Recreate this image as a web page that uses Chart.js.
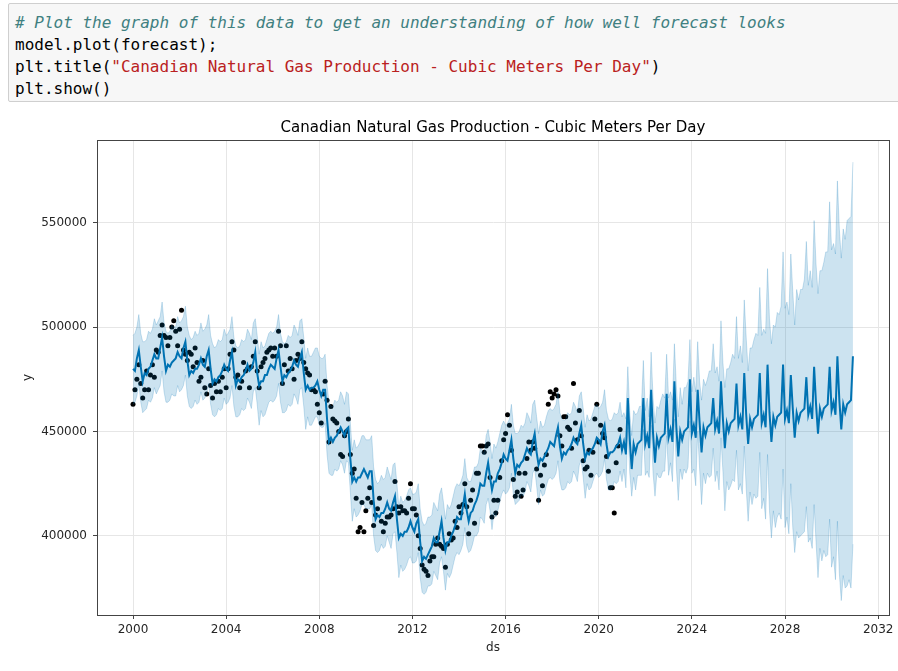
<!DOCTYPE html>
<html>
<head>
<meta charset="utf-8">
<title>Canadian Natural Gas Production</title>
<script src="https://cdn.jsdelivr.net/npm/chart.js@4.4.1/dist/chart.umd.min.js"></script>
<style>
  body { margin: 0; background: #fff; width: 898px; height: 671px; overflow: hidden; position: relative; }
  .cell { position: absolute; left: 8px; top: 3px; width: 900px; height: 99px; background: #f7f7f7;
          border: 1px solid #cfcfcf; border-radius: 2px; box-sizing: border-box; }
  .cell pre { margin: 0; padding: 8px 6px 6px 6px; font: 16px/22px "DejaVu Sans Mono", monospace; color: #000; }
  .cm { color: #408080; font-style: italic; }
  .st { color: #ba2121; }
  #wrap { position: absolute; left: 0; top: 110px; width: 898px; height: 561px; }
</style>
</head>
<body>
<div class="cell"><pre><span class="cm"># Plot the graph of this data to get an understanding of how well forecast looks</span>
model.plot(forecast);
plt.title(<span class="st">"Canadian Natural Gas Production - Cubic Meters Per Day"</span>)
plt.show()</pre></div>
<div id="wrap"><canvas id="forecastChart" width="898" height="561"></canvas></div>
<script>
// Série mensal: Jan 2000 = índice 0 (valores em milhares de m³/dia)
const startYear = 2000;
const xTicks = [2000, 2004, 2008, 2012, 2016, 2020, 2024, 2028, 2032];
const yTicks = [400000, 450000, 500000, 550000];

// Pontos observados, Jan 2000 - Dez 2020
const observed = [
  463,470,475,482,473,466,470,479,470,477,482,476,
  489,488,496,501,496,495,491,495,500,503,498,491,
  499,508,489,487,484,488,487,481,490,483,474,476,
  484,471,468,480,472,466,473,469,474,469,476,480,
  471,480,487,493,489,476,477,471,474,483,479,480,
  471,481,486,493,479,471,481,483,485,488,489,490,
  486,490,486,498,491,473,482,491,479,485,480,475,
  484,487,485,493,483,480,478,477,470,470,469,463,
  459,454,468,474,465,445,462,456,455,454,450,439,
  438,448,450,456,439,430,432,418,402,404,416,402,
  412,418,423,416,405,410,413,418,407,402,406,409,
  409,410,413,426,414,411,414,412,412,411,418,425,
  413,413,410,400,394,386,384,383,381,388,390,390,
  396,399,396,395,394,385,396,401,398,399,407,404,
  414,411,415,425,414,401,417,422,406,430,430,443,
  443,440,443,444,428,409,417,411,417,428,436,446,
  449,458,453,441,427,419,421,430,419,422,430,437,
  445,441,445,442,432,417,429,424,434,439,463,469,
  466,468,470,467,448,443,457,457,452,451,442,473,
  454,446,460,448,436,432,433,441,429,440,456,463,
  445,453,449,447,438,431,423,423,411,435,443,451
];

// Previsão (yhat), Jan 2000 - Dez 2030
const yhat = [
  480,479,485,489,481,474,478,477,480,481,484,487,
  485,485,490,495,486,479,482,481,483,484,485,488,
  486,485,490,493,484,477,479,478,480,480,482,485,
  482,481,486,489,480,473,475,474,476,477,479,482,
  480,479,484,488,479,472,475,474,476,477,479,482,
  479,480,483,488,478,472,474,474,477,477,480,482,
  481,480,485,489,481,474,477,476,478,479,481,484,
  482,481,485,488,478,470,472,470,471,471,472,474,
  470,467,470,470,456,445,447,445,447,448,450,452,
  450,448,451,452,437,426,428,426,428,428,430,432,
  430,428,431,431,417,408,410,409,411,411,413,416,
  413,412,416,419,408,399,401,400,402,402,404,407,
  404,402,406,408,397,388,390,389,391,393,395,399,
  397,397,402,407,399,393,397,397,400,402,405,409,
  408,408,414,420,412,407,411,412,415,417,420,425,
  424,424,430,435,428,422,426,426,430,432,435,439,
  437,436,441,446,437,430,434,433,435,436,439,442,
  440,439,445,449,440,434,437,436,438,440,442,445,
  444,443,448,452,443,437,440,439,441,442,444,447,
  445,444,449,453,444,437,440,439,441,442,444,447,
  446,444,450,453,444,438,440,440,441,443,444,447,
  441,445,439,466,446,432,444,440,444,445,446,466,
  444,448,442,470,449,435,447,443,447,448,449,468,
  447,451,445,474,452,438,450,446,450,451,452,475,
  449,453,447,470,454,440,452,448,452,453,454,466,
  451,455,449,474,456,442,454,450,454,455,456,473,
  453,457,451,478,458,444,456,452,456,457,458,478,
  454,458,452,482,459,445,457,453,457,458,459,482,
  456,460,454,477,461,447,459,455,459,460,461,476,
  458,462,456,481,463,449,461,457,461,462,463,481,
  460,464,458,486,465,451,463,459,463,464,465,486
];

// Intervalo de incerteza (limite inferior)
const yhatLower = [
  463,464,467,473,464,459,460,461,465,464,466,471,
  468,470,472,479,469,464,464,465,468,467,467,472,
  469,470,472,477,467,462,461,462,465,463,464,469,
  465,466,468,473,463,458,457,458,461,460,461,466,
  463,464,466,472,462,457,457,458,461,460,461,466,
  464,461,469,471,463,453,460,457,458,461,464,465,
  464,465,467,473,464,459,459,460,463,462,463,468,
  466,463,470,471,462,451,457,453,453,455,457,457,
  453,452,452,454,439,430,429,429,432,431,432,436,
  434,430,436,435,421,407,413,409,410,412,415,415,
  413,413,413,415,400,393,392,393,396,394,395,400,
  397,394,401,402,392,380,386,383,384,386,389,390,
  387,387,388,392,380,373,372,373,376,376,377,383,
  381,379,387,390,383,374,382,380,382,386,390,392,
  391,393,396,404,395,392,393,396,400,400,402,409,
  408,406,415,418,412,403,411,409,412,416,420,422,
  420,421,423,430,420,415,416,417,420,419,421,426,
  424,421,430,432,424,415,422,419,420,424,427,428,
  427,428,430,436,426,422,422,423,426,425,426,431,
  429,426,434,436,428,418,425,422,423,426,429,430,
  428,429,431,437,427,422,422,423,426,425,426,431,
  426,432,423,452,430,419,428,422,429,429,429,451,
  429,431,428,453,430,419,430,428,428,431,431,448,
  429,435,426,456,433,417,432,427,432,430,433,455,
  430,432,424,450,432,415,430,425,430,428,429,442,
  426,431,422,447,431,412,426,422,424,427,426,441,
  422,425,420,443,423,407,421,415,420,418,419,440,
  413,418,408,439,412,399,412,404,409,411,408,432,
  404,409,401,425,404,392,402,399,400,401,402,414,
  397,399,394,415,397,380,394,388,393,390,391,408,
  385,390,379,407,382,369,381,375,376,379,375,396
];

// Intervalo de incerteza (limite superior)
const yhatUpper = [
  496,497,500,506,497,493,493,494,498,497,499,504,
  501,503,505,512,502,498,497,498,501,500,500,505,
  502,503,505,510,500,496,494,495,498,496,497,502,
  498,499,501,506,496,492,490,491,494,493,494,499,
  496,497,499,505,495,491,490,491,494,493,494,499,
  497,494,502,504,496,487,493,490,491,494,497,498,
  497,498,500,506,497,493,492,493,496,495,496,501,
  499,496,503,504,495,485,490,486,486,488,490,490,
  486,485,485,487,472,464,462,462,465,464,465,469,
  467,463,469,468,454,441,446,442,443,445,448,448,
  446,446,446,448,433,427,425,426,429,427,428,433,
  430,427,434,435,425,414,419,416,417,419,422,423,
  420,420,421,425,413,407,405,406,409,409,410,416,
  414,412,420,423,416,408,415,413,415,419,423,425,
  424,426,429,437,428,426,426,429,433,433,435,442,
  441,439,448,451,445,437,444,442,445,449,453,455,
  453,454,456,463,453,449,449,450,453,452,454,459,
  457,454,463,465,457,449,455,452,453,457,460,461,
  460,461,463,469,459,456,455,456,459,458,459,464,
  462,459,467,469,461,452,458,455,456,459,462,463,
  461,462,464,470,460,456,455,456,459,458,459,464,
  457,459,456,481,459,448,460,458,459,462,462,484,
  460,466,457,488,466,454,462,461,465,468,466,487,
  466,469,465,492,472,457,471,463,471,471,474,494,
  469,476,469,493,474,465,475,472,475,479,479,492,
  478,481,474,503,483,471,480,480,483,487,485,505,
  485,491,483,513,495,479,490,490,494,497,496,519,
  496,499,497,528,504,492,501,500,507,506,510,536,
  509,512,506,535,517,501,518,513,518,518,523,541,
  520,527,519,551,530,516,527,527,531,536,536,560,
  537,540,535,570,547,533,547,542,551,552,553,579
];

// índice do mês -> ano decimal (eixo ds)
function monthToYear(i) {
    return startYear + i / 12;
}

function toPoints(values) {
    return values.map((v, i) => ({ x: monthToYear(i), y: v * 1000 }));
}

const bandColor = 'rgba(0, 114, 178, 0.2)';
const tickFont = { family: 'DejaVu Sans', size: 12 };

// Moldura completa em volta da área do gráfico (estilo matplotlib)
// e título centrado sobre a área de plotagem
const framePlugin = {
    id: 'frame',
    afterLayout(chart) {
        const title = chart.titleBlock;
        if (title) {
            title.left = chart.chartArea.left;
            title.right = chart.chartArea.right;
        }
    },
    afterDraw(chart) {
        const { ctx, chartArea } = chart;
        ctx.save();
        ctx.strokeStyle = '#444';
        ctx.lineWidth = 1;
        ctx.strokeRect(chartArea.left + 0.5, chartArea.top + 0.5,
                       chartArea.right - chartArea.left, chartArea.bottom - chartArea.top);
        ctx.restore();
    }
};

var ctx = document.getElementById('forecastChart').getContext('2d');
new Chart(ctx, {
    type: 'line',
    data: {
        datasets: [
            { label: 'yhat_upper', data: toPoints(yhatUpper), borderColor: bandColor, borderWidth: 1,
              pointRadius: 0, fill: false, tension: 0 },
            { label: 'yhat_lower', data: toPoints(yhatLower), borderColor: bandColor, borderWidth: 1,
              pointRadius: 0, fill: '-1', backgroundColor: bandColor, tension: 0 },
            { label: 'yhat', data: toPoints(yhat), borderColor: '#0072B2', borderWidth: 2,
              pointRadius: 0, fill: false, tension: 0 },
            { type: 'scatter', label: 'y', data: toPoints(observed), backgroundColor: '#000',
              borderWidth: 0, pointRadius: 2.5 }
        ]
    },
    options: {
        responsive: false,
        animation: false,
        events: [],
        layout: { padding: { right: 9 } },
        plugins: {
            legend: { display: false },
            tooltip: { enabled: false },
            title: {
                display: true,
                text: 'Canadian Natural Gas Production - Cubic Meters Per Day',
                color: '#000',
                font: { family: 'DejaVu Sans', size: 15, weight: 'normal' },
                padding: { top: 9, bottom: 3 }
            }
        },
        scales: {
            x: {
                type: 'linear',
                min: 1998.454,
                max: 2032.466,
                afterBuildTicks: axis => { axis.ticks = xTicks.map(v => ({ value: v })); },
                afterFit: axis => { axis.height = 56; },
                grid: { color: '#e6e6e6', tickColor: '#444', tickLength: 4 },
                border: { color: '#444' },
                ticks: { color: '#262626', font: tickFont, padding: 4, maxRotation: 0,
                         callback: v => String(v) },
                title: { display: true, text: 'ds', color: '#262626', font: tickFont,
                         padding: { top: 2, bottom: 16 } }
            },
            y: {
                type: 'linear',
                min: 362100,
                max: 589600,
                afterBuildTicks: axis => { axis.ticks = yTicks.map(v => ({ value: v })); },
                afterFit: axis => { axis.width = 97; },
                grid: { color: '#e6e6e6', tickColor: '#444', tickLength: 4 },
                border: { color: '#444' },
                ticks: { color: '#262626', font: tickFont, padding: 6, callback: v => String(v) },
                title: { display: true, text: 'y', color: '#262626', font: tickFont,
                         padding: { top: 21, bottom: 0 } }
            }
        }
    },
    plugins: [framePlugin]
});
</script>
</body>
</html>
